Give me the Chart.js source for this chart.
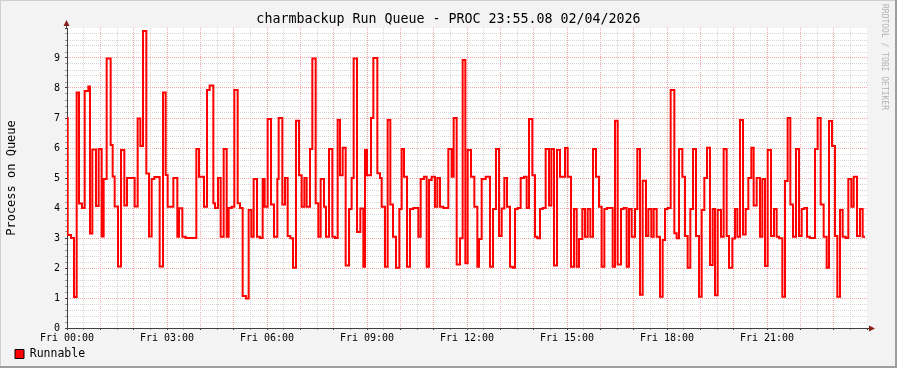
<!DOCTYPE html>
<html>
<head>
<meta charset="utf-8">
<title>charmbackup Run Queue</title>
<script src="https://cdn.jsdelivr.net/npm/chart.js@4.4.1/dist/chart.umd.min.js"></script>
<style>
  html, body { margin: 0; padding: 0; background: #f3f3f3; }
  #wrap { width: 897px; height: 368px; }
</style>
</head>
<body>
<div id="wrap"><canvas id="runq" width="897" height="368"></canvas></div>
<script>
// step start times (hours since Fri 00:00) and the run queue value held from that time
const stepHours = [
  0.00, 0.02, 0.12, 0.21, 0.29, 0.36, 0.45, 0.53, 0.64, 0.69, 0.76, 0.87, 0.95,
  1.04, 1.10, 1.19, 1.31, 1.37, 1.43, 1.53, 1.62, 1.72, 1.80,
  2.03, 2.12, 2.20, 2.28, 2.38, 2.46, 2.54, 2.62, 2.78, 2.88, 2.96,
  3.02, 3.19, 3.31, 3.36, 3.46, 3.56, 3.88, 3.96,
  4.11, 4.20, 4.28, 4.39, 4.44, 4.53, 4.61, 4.70, 4.79, 4.85, 4.94,
  5.02, 5.12, 5.19, 5.27, 5.37, 5.45, 5.53, 5.60, 5.70, 5.79, 5.87, 5.93,
  6.02, 6.12, 6.21, 6.31, 6.35, 6.46, 6.54, 6.62, 6.70, 6.78, 6.87, 6.96,
  7.04, 7.12, 7.19, 7.29, 7.36, 7.46, 7.54, 7.61, 7.71, 7.77, 7.86, 7.96,
  8.04, 8.12, 8.19, 8.27, 8.36, 8.46, 8.54, 8.60, 8.70, 8.80, 8.89, 8.94,
  9.00, 9.12, 9.19, 9.31, 9.39, 9.44, 9.54, 9.62, 9.70, 9.78, 9.87, 9.97,
  10.04, 10.11, 10.20, 10.29, 10.39, 10.54, 10.61, 10.71, 10.79, 10.86, 10.94,
  11.04, 11.11, 11.19, 11.29, 11.44, 11.54, 11.60, 11.69, 11.79, 11.87, 11.95,
  12.02, 12.12, 12.22, 12.31, 12.36, 12.44, 12.56, 12.69, 12.78, 12.87, 12.96,
  13.04, 13.12, 13.20, 13.29, 13.37, 13.44, 13.52, 13.61, 13.71, 13.79, 13.86, 13.96,
  14.04, 14.11, 14.19, 14.27, 14.36, 14.46, 14.53, 14.61, 14.70, 14.79, 14.94,
  15.02, 15.12, 15.21, 15.29, 15.36, 15.46, 15.54, 15.62, 15.70, 15.78, 15.87, 15.96,
  16.04, 16.12, 16.20, 16.37, 16.44, 16.52, 16.62, 16.70, 16.79, 16.86, 16.94,
  17.04, 17.11, 17.19, 17.27, 17.37, 17.44, 17.53, 17.60, 17.69, 17.79, 17.87, 17.94,
  18.02, 18.11, 18.22, 18.29, 18.36, 18.46, 18.54, 18.62, 18.70, 18.78, 18.87, 18.96,
  19.04, 19.12, 19.20, 19.29, 19.37, 19.44, 19.52, 19.62, 19.70, 19.79, 19.86, 19.96,
  20.04, 20.11, 20.19, 20.28, 20.36, 20.44, 20.53, 20.60, 20.69, 20.79, 20.86, 20.94,
  21.02, 21.12, 21.21, 21.29, 21.36, 21.46, 21.54, 21.62, 21.70, 21.78, 21.87, 21.96,
  22.04, 22.12, 22.20, 22.29, 22.44, 22.52, 22.61, 22.70, 22.79, 22.86, 22.95,
  23.04, 23.11, 23.19, 23.27, 23.36, 23.44, 23.53, 23.60, 23.70, 23.79, 23.87, 23.94
];
const runnable = [
  7.0, 3.1, 3.0, 1.03, 7.85, 4.15, 4.0, 7.9, 8.05, 3.15, 5.95, 4.07, 5.97,
  3.05, 4.97, 8.98, 6.1, 5.05, 4.05, 2.05, 5.93, 4.08, 5.0,
  4.05, 6.98, 6.07, 9.9, 5.15, 3.05, 4.97, 5.03, 2.05, 7.85, 5.1,
  4.04, 5.0, 3.04, 3.99, 3.04, 3.0, 5.97, 5.04,
  4.04, 7.93, 8.08, 4.16, 4.0, 5.0, 3.04, 5.97, 3.04, 4.0, 4.04,
  7.93, 4.16, 4.0, 1.07, 0.98, 3.93, 3.04, 4.97, 3.04, 3.0, 4.97, 4.04,
  6.97, 4.12, 3.04, 4.97, 7.0, 4.12, 5.0, 3.07, 2.99, 2.01, 6.91, 5.09,
  4.04, 5.0, 4.04, 5.97, 8.98, 4.16, 3.04, 4.97, 4.04, 3.04, 5.97, 3.04,
  3.0, 6.93, 5.09, 6.01, 2.08, 3.97, 5.0, 8.98, 3.2, 3.98, 2.04, 5.93,
  5.09, 7.0, 9.0, 5.16, 5.0, 4.04, 2.04, 6.93, 4.12, 3.04, 2.01, 3.97,
  5.97, 5.04, 2.04, 3.97, 4.0, 3.04, 4.97, 5.04, 2.04, 4.93, 5.04,
  4.04, 5.0, 4.04, 4.0, 5.97, 5.04, 7.0, 2.12, 2.99, 8.93, 2.16,
  5.93, 5.04, 4.04, 2.04, 2.97, 4.97, 5.04, 2.04, 3.97, 5.97, 3.07,
  3.98, 5.0, 4.04, 2.04, 2.01, 3.97, 4.0, 5.0, 5.04, 4.0, 6.97, 5.09,
  3.04, 2.99, 3.97, 4.0, 5.97, 4.08, 5.97, 2.08, 5.93, 5.04, 6.0,
  5.04, 2.04, 3.97, 2.04, 2.97, 3.97, 3.04, 3.97, 3.04, 5.97, 5.04, 4.04,
  2.04, 3.97, 4.0, 2.04, 6.91, 2.12, 3.97, 4.0, 2.04, 3.97, 3.04,
  3.97, 5.97, 1.11, 4.91, 3.07, 3.97, 3.04, 3.97, 3.04, 1.04, 2.93, 3.97,
  4.0, 7.93, 3.16, 2.99, 5.97, 5.04, 3.07, 2.01, 3.97, 5.97, 3.07, 1.04,
  3.93, 5.0, 6.01, 2.1, 3.97, 1.09, 3.93, 3.04, 5.97, 3.07, 2.01, 2.98,
  3.97, 3.04, 6.93, 3.12, 3.97, 5.0, 6.01, 4.08, 5.0, 3.04, 4.97, 2.07,
  5.93, 3.07, 3.97, 3.04, 2.99, 1.04, 4.9, 7.0, 4.12, 3.04, 5.97, 3.07,
  3.97, 4.0, 3.04, 3.0, 5.97, 7.0, 4.12, 3.04, 2.01, 6.9, 6.07,
  3.07, 1.04, 3.93, 3.04, 3.0, 4.97, 4.04, 5.04, 3.07, 3.97, 3.04, 3.04
];
const labelHours = [0, 3, 6, 9, 12, 15, 18, 21];
const hourLabels = ["Fri 00:00", "Fri 03:00", "Fri 06:00", "Fri 09:00",
                    "Fri 12:00", "Fri 15:00", "Fri 18:00", "Fri 21:00"];
const yLabels = ["0", "1", "2", "3", "4", "5", "6", "7", "8", "9"];

const MONO = "'DejaVu Sans Mono', monospace";
const MAJOR = "#f2a6a6";
const MINOR = "#d6d6d6";

//canvas back, plot area, shading, arrows and the rrdtool tag
const rrdFrame = {
  id: 'rrdFrame',
  afterLayout(chart) {
    // legend sits 15px in from the left edge, title centred on the whole canvas
    if (chart.legend) {
      chart.legend.left += 10;
      chart.legend.right += 10;
    }
    if (chart.titleBlock) {
      chart.titleBlock.left += 15;
      chart.titleBlock.right += 15;
    }
  },
  beforeDraw(chart) {
    const c = chart.ctx, a = chart.chartArea;
    c.save();
    c.fillStyle = '#f3f3f3';
    c.fillRect(0, 0, chart.width, chart.height);
    c.fillStyle = '#cfcfcf';
    c.fillRect(0, 0, chart.width, 1);
    c.fillRect(0, 0, 1, chart.height);
    c.fillStyle = '#9e9e9e';
    c.fillRect(0, chart.height - 2, chart.width, 2);
    c.fillRect(chart.width - 2, 0, 2, chart.height);
    c.fillStyle = '#ffffff';
    c.fillRect(a.left, a.top, a.right - a.left, a.bottom - a.top);
    c.restore();
  },
  afterDraw(chart) {
    const c = chart.ctx, a = chart.chartArea;
    const x0 = Math.round(a.left) - 0.5, y0 = Math.round(a.bottom) + 0.5;
    c.save();
    c.strokeStyle = '#404040';
    c.lineWidth = 1;
    c.beginPath();
    c.moveTo(x0, a.top); c.lineTo(x0, a.top - 3);
    c.moveTo(a.right, y0); c.lineTo(a.right + 3, y0);
    c.stroke();
    c.fillStyle = '#8b1c1c';
    c.beginPath();
    c.moveTo(x0, a.top - 8); c.lineTo(x0 - 3, a.top - 2); c.lineTo(x0 + 3, a.top - 2);
    c.closePath(); c.fill();
    c.beginPath();
    c.moveTo(a.right + 8, y0); c.lineTo(a.right + 2, y0 - 3); c.lineTo(a.right + 2, y0 + 3);
    c.closePath(); c.fill();
    c.translate(884, 4);
    c.rotate(Math.PI / 2);
    c.fillStyle = '#b4b4b4';
    c.font = "8px " + MONO;
    c.textAlign = 'left';
    c.textBaseline = 'middle';
    c.fillText('RRDTOOL / TOBI OETIKER', 0, 0);
    c.restore();
  }
};

new Chart(document.getElementById("runq"), {
  type: 'line',
  data: {
    datasets: [{
      label: "Runnable",
      data: stepHours.map((h, i) => ({x: h, y: runnable[i]})),
      borderColor: "#ff0000",
      borderWidth: 2,
      stepped: true,
      pointRadius: 0,
      fill: false
    }]
  },
  options: {
    responsive: false,
    animation: false,
    layout: { padding: { left: 0, right: 30, top: 0, bottom: -1.75 } },
    scales: {
      x: {
        type: 'linear',
        min: 0,
        max: 24,
        afterFit(scale) { scale.height = 15.25; },
        afterBuildTicks(scale) {
          const t = [];
          for (let i = 0; i <= 48; i++) t.push({value: i / 2});
          scale.ticks = t;
        },
        ticks: {
          autoSkip: false,
          maxRotation: 0,
          minRotation: 0,
          padding: 2,
          color: '#000',
          font: { family: MONO, size: 10 },
          callback(v) {
            const k = labelHours.indexOf(v);
            return k < 0 ? '' : hourLabels[k];
          }
        },
        grid: {
          tickLength: 2,
          color(ctx) {
            const v = ctx.tick.value;
            if (v >= 24) return 'rgba(0,0,0,0)';
            return Number.isInteger(v) ? MAJOR : MINOR;
          },
          tickColor(ctx) {
            return Number.isInteger(ctx.tick.value) ? '#404040' : '#9a9a9a';
          }
        },
        border: { display: true, color: '#404040', width: 1, dash: [1, 1] }
      },
      y: {
        min: 0,
        max: 10,
        afterFit(scale) { scale.width = 67; },
        afterBuildTicks(scale) {
          const t = [];
          for (let i = 0; i <= 50; i++) t.push({value: i / 5});
          scale.ticks = t;
        },
        ticks: {
          autoSkip: false,
          padding: 5,
          color: '#000',
          font: { family: MONO, size: 10 },
          callback(v) {
            const r = Math.round(v);
            return (Math.abs(v - r) < 1e-6 && r < 10) ? yLabels[r] : '';
          }
        },
        title: {
          display: true,
          text: 'Process on Queue',
          color: '#000',
          font: { family: MONO, size: 12 },
          padding: { top: 5, bottom: 0 }
        },
        grid: {
          tickLength: 2,
          color(ctx) {
            const v = ctx.tick.value;
            if (v >= 10) return 'rgba(0,0,0,0)';
            return Math.abs(v - Math.round(v)) < 1e-6 ? MAJOR : MINOR;
          },
          tickColor(ctx) {
            const v = ctx.tick.value;
            return Math.abs(v - Math.round(v)) < 1e-6 ? '#404040' : '#9a9a9a';
          }
        },
        border: { display: true, color: '#404040', width: 1, dash: [1, 1] }
      }
    },
    plugins: {
      title: {
        display: true,
        text: 'charmbackup Run Queue - PROC 23:55.08 02/04/2026',
        color: '#000',
        font: { family: MONO, size: 13.3, weight: 'normal' },
        padding: { top: 11.5, bottom: 0.54 }
      },
      legend: {
        position: 'bottom',
        align: 'start',
        onClick: null,
        labels: {
          boxWidth: 9,
          boxHeight: 9,
          padding: 5,
          color: '#000',
          font: { family: MONO, size: 11.5 },
          generateLabels() {
            return [{
              text: 'Runnable',
              fillStyle: '#ff0000',
              strokeStyle: '#000000',
              lineWidth: 1,
              hidden: false,
              datasetIndex: 0
            }];
          }
        }
      },
      tooltip: { enabled: false }
    }
  },
  plugins: [rrdFrame]
});
</script>
</body>
</html>
